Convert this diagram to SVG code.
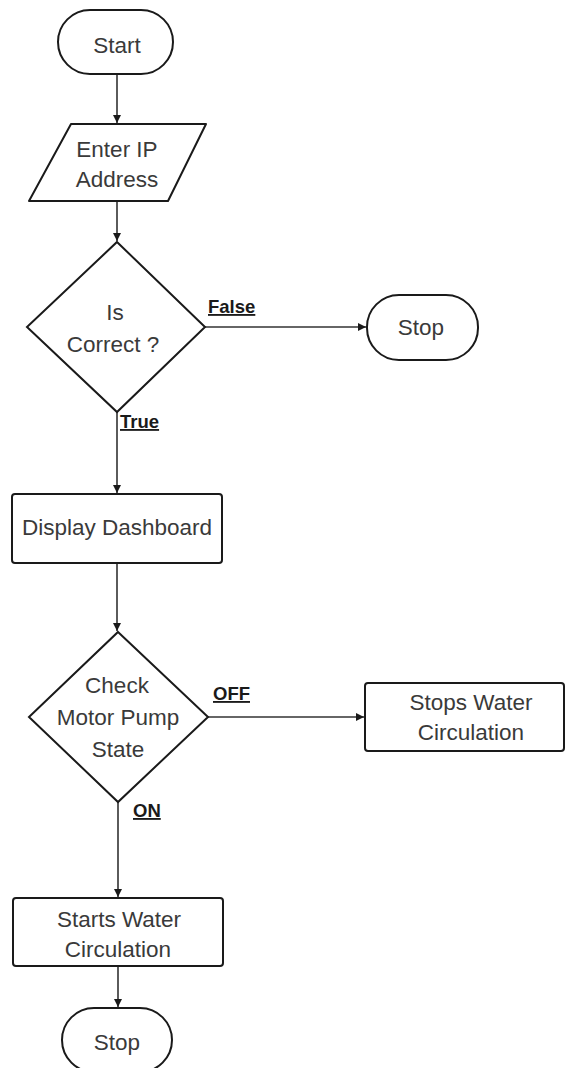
<svg xmlns="http://www.w3.org/2000/svg" width="565" height="1068" viewBox="0 0 565 1068">
<defs>
<style>
.shape{fill:#fff;stroke:#1a1a1a;stroke-width:2}
.t{font-family:"Liberation Sans",Arial,sans-serif;font-size:22.5px;fill:#3a3a3a;text-anchor:middle}
.lbl{font-family:"Liberation Sans",Arial,sans-serif;font-size:18.5px;font-weight:bold;fill:#1a1a1a;text-decoration:underline}
.c{fill:none;stroke:#333;stroke-width:1.6;marker-end:url(#ah)}
</style>
<marker id="ah" viewBox="0 0 10 10" refX="10" refY="5" markerWidth="8" markerHeight="8" markerUnits="userSpaceOnUse" orient="auto">
<path d="M0,0 L10,5 L0,10 z" fill="#1a1a1a"/>
</marker>
</defs>
<rect width="565" height="1068" fill="#fff"/>
<g id="connectors">
<line class="c" x1="117" y1="74" x2="117" y2="123"/>
<line class="c" x1="117" y1="201" x2="117" y2="241"/>
<line class="c" x1="205" y1="327" x2="366" y2="327"/>
<line class="c" x1="117" y1="412" x2="117" y2="493"/>
<line class="c" x1="117" y1="563" x2="117" y2="631"/>
<line class="c" x1="208" y1="717" x2="364" y2="717"/>
<line class="c" x1="118" y1="802" x2="118" y2="897"/>
<line class="c" x1="118" y1="966" x2="118" y2="1007"/>
<text class="lbl" x="208" y="313">False</text>
<text class="lbl" x="120" y="428">True</text>
<text class="lbl" x="213" y="700">OFF</text>
<text class="lbl" x="133" y="817">ON</text>
</g>
<g id="start">
<rect class="shape" x="58" y="10" width="115" height="64" rx="32"/>
<text class="t" x="117" y="53">Start</text>
</g>
<g id="enter-ip">
<path class="shape" d="M71,124 L206,124 L168,201 L29,201 Z" stroke-linejoin="round"/>
<text class="t" x="117" y="157">Enter IP</text>
<text class="t" x="117" y="187">Address</text>
</g>
<g id="is-correct">
<path class="shape" d="M117,242 L205,327 L117,412 L27,327 Z"/>
<text class="t" x="115" y="320">Is</text>
<text class="t" x="113" y="352">Correct ?</text>
</g>
<g id="stop-1">
<rect class="shape" x="367" y="295" width="111" height="65" rx="32"/>
<text class="t" x="421" y="335">Stop</text>
</g>
<g id="display-dashboard">
<rect class="shape" x="12" y="494" width="210" height="69" rx="3"/>
<text class="t" x="117" y="535">Display Dashboard</text>
</g>
<g id="check-pump">
<path class="shape" d="M118,632 L208,717 L118,802 L29,717 Z"/>
<text class="t" x="117" y="693">Check</text>
<text class="t" x="118" y="725">Motor Pump</text>
<text class="t" x="118" y="757">State</text>
</g>
<g id="stops-water">
<rect class="shape" x="365" y="683" width="199" height="68" rx="3"/>
<text class="t" x="471" y="710">Stops Water</text>
<text class="t" x="471" y="740">Circulation</text>
</g>
<g id="starts-water">
<rect class="shape" x="13" y="898" width="210" height="68" rx="3"/>
<text class="t" x="119" y="927">Starts Water</text>
<text class="t" x="118" y="957">Circulation</text>
</g>
<g id="stop-2">
<rect class="shape" x="62" y="1008" width="110" height="64" rx="32"/>
<text class="t" x="117" y="1050">Stop</text>
</g>
</svg>
